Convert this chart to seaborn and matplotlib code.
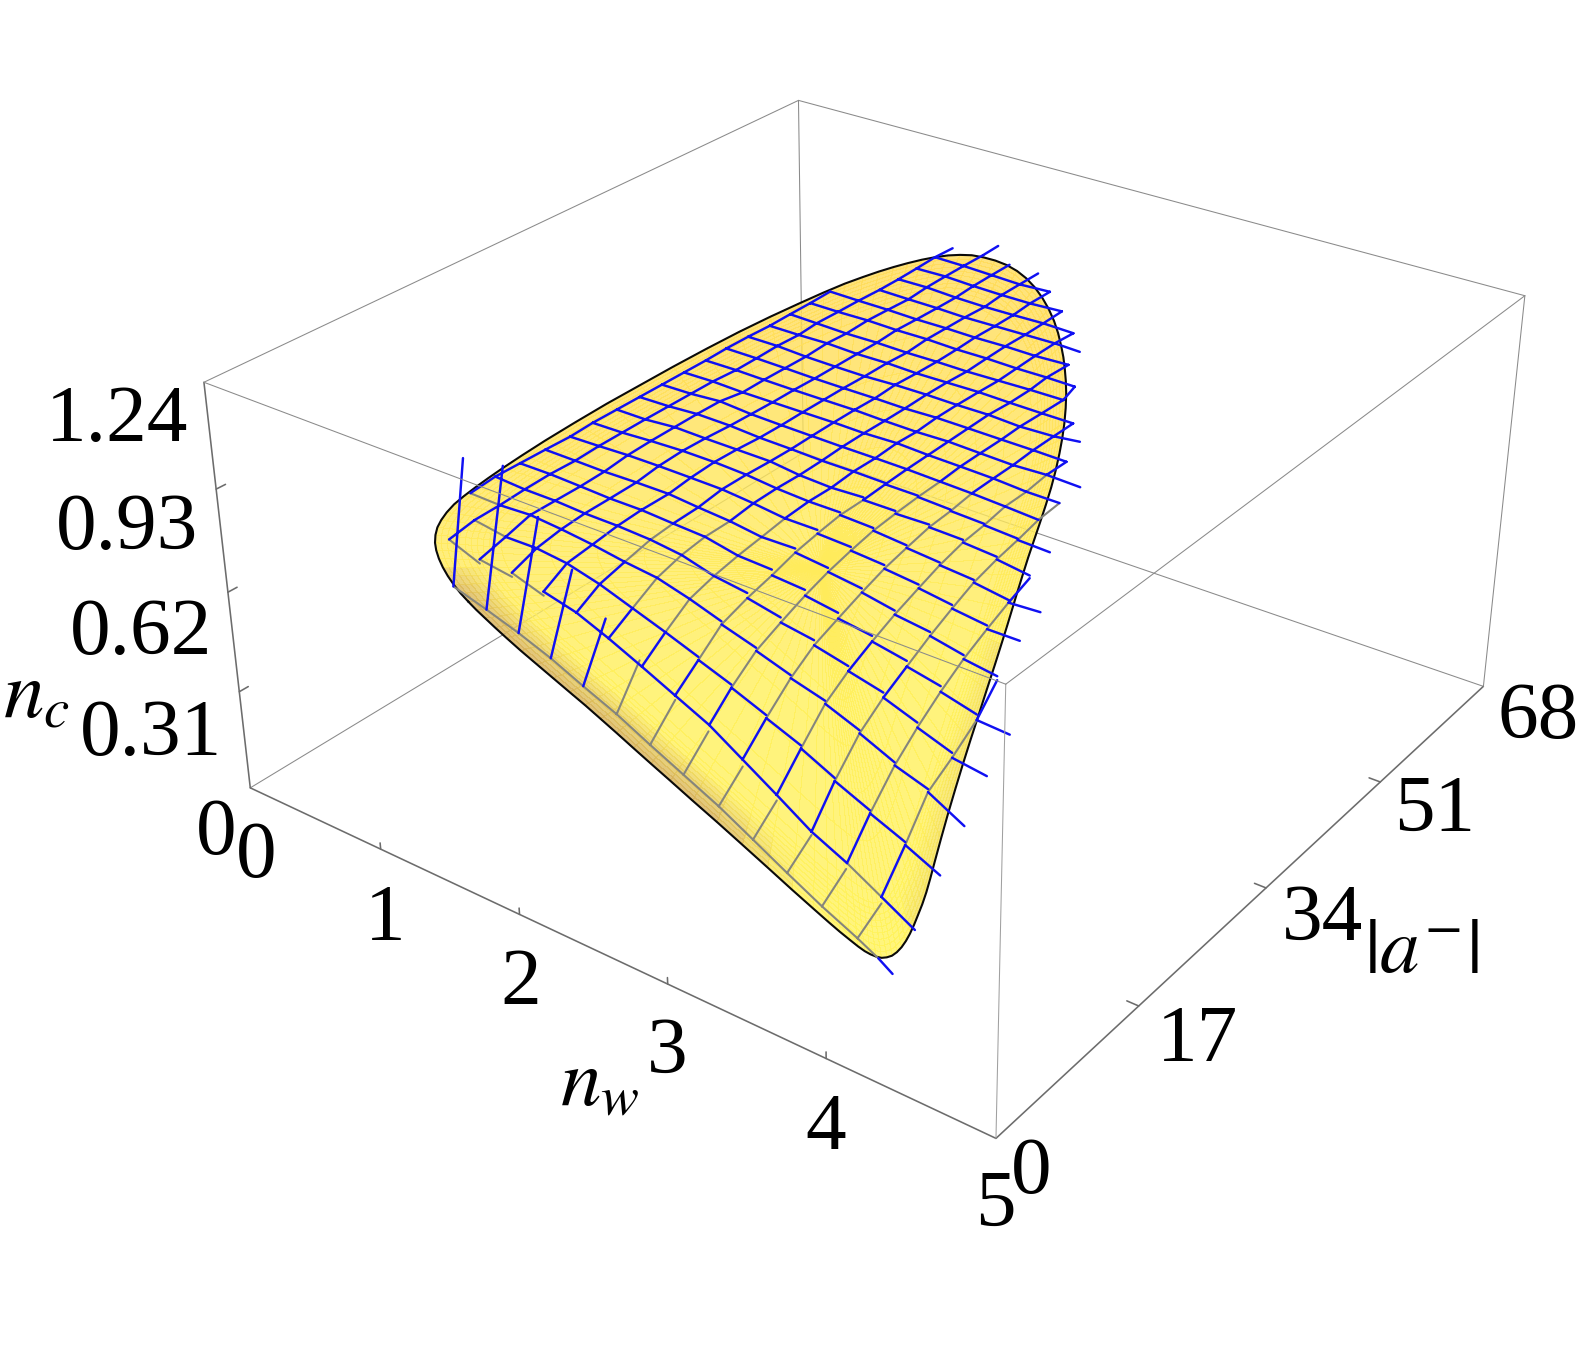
import numpy as np
import matplotlib
matplotlib.use('Agg')
import matplotlib.pyplot as plt
import seaborn as sns
from mpl_toolkits.mplot3d import Axes3D

W, H = 1583, 1350
n = np.nan

# ---------------- axes ranges and tick labels ----------------
nw_range = (0, 5)
a_range = (0, 68)
nc_range = (0, 1.24)
nw_ticks = [0, 1, 2, 3, 4, 5]
a_ticks = [0, 17, 34, 51, 68]
nc_ticks = [0, 0.31, 0.62, 0.93, 1.24]

# ---------------- surface mesh ----------------
mesh_nw = [1.2, 1.37, 1.54, 1.71, 1.88, 2.05, 2.22, 2.39, 2.56, 2.73, 2.9, 3.07, 3.24, 3.41, 3.58, 3.75, 3.92]
mesh_a = [
[n,n,2.1,2.8,3.4,4.0,4.6,5.3,6.0,6.7,7.6,8.4,9.2,10.1,11.1,10.4,8.9],
[n,4.3,4.8,5.5,6.1,6.8,7.4,8.1,8.8,9.6,10.3,11.1,12.0,13.0,13.9,14.7,n],
[n,6.9,7.5,8.1,8.6,9.3,10.0,10.7,11.4,12.1,13.0,13.9,14.7,15.7,16.7,17.7,n],
[9.0,9.5,10.1,10.7,11.3,12.0,12.7,13.4,14.0,14.9,15.8,16.7,17.6,18.6,19.4,20.6,n],
[11.6,12.1,12.7,13.2,14.0,14.8,15.4,16.1,16.9,17.7,18.5,19.4,20.4,21.3,22.3,23.3,n],
[14.2,14.8,15.4,15.9,16.6,17.3,18.0,18.8,19.7,20.5,21.3,22.2,23.2,24.1,25.3,26.1,n],
[16.9,17.5,18.0,18.8,19.6,20.1,20.8,21.5,22.4,23.2,24.1,24.9,26.0,26.9,27.8,n,n],
[19.6,20.1,20.6,21.3,22.1,22.8,23.5,24.2,25.0,25.9,26.8,27.8,28.7,29.8,30.6,n,n],
[22.1,22.7,23.2,24.0,24.8,25.6,26.2,27.0,27.7,28.6,29.5,30.4,31.4,32.5,33.2,n,n],
[24.8,25.3,25.9,26.6,27.4,28.4,28.9,29.7,30.5,31.3,32.3,33.3,34.3,35.2,n,n,n],
[27.4,28.0,28.5,29.5,30.1,30.9,31.6,32.4,33.2,34.1,35.0,36.0,37.0,37.8,n,n,n],
[30.0,30.6,31.2,32.0,32.7,33.4,34.1,35.1,35.9,36.9,37.7,38.7,39.7,n,n,n,n],
[32.6,33.2,33.9,34.6,35.3,36.1,36.8,37.8,38.6,39.5,40.5,41.5,42.5,n,n,n,n],
[35.2,36.0,36.5,37.2,37.9,38.7,39.4,40.3,41.2,42.1,43.1,44.2,45.3,n,n,n,n],
[37.7,38.5,39.1,39.8,40.4,41.3,42.0,42.9,43.8,44.9,45.8,46.9,n,n,n,n,n],
[40.4,41.1,41.7,42.4,43.1,43.9,44.8,45.6,46.5,47.4,48.6,48.7,n,n,n,n,n],
[43.1,43.8,44.4,45.2,46.0,46.7,47.5,48.5,49.4,50.4,51.3,n,n,n,n,n,n],
[45.7,46.1,46.9,47.8,48.6,49.4,50.2,51.2,52.2,53.4,n,n,n,n,n,n,n],
[48.3,48.9,49.7,50.4,51.3,52.1,52.9,53.7,54.5,55.0,n,n,n,n,n,n,n],
[50.9,51.6,52.4,53.1,53.9,54.6,55.5,56.3,57.6,n,n,n,n,n,n,n,n],
[n,54.4,55.2,55.9,56.5,57.4,58.3,59.1,59.2,n,n,n,n,n,n,n,n],
[n,57.0,57.7,58.5,59.3,60.0,60.9,61.8,n,n,n,n,n,n,n,n,n],
[n,59.5,60.3,61.0,61.7,62.4,63.6,n,n,n,n,n,n,n,n,n,n],
[n,62.1,62.9,63.6,64.3,65.3,n,n,n,n,n,n,n,n,n,n,n],
[n,64.6,65.7,66.2,67.0,n,n,n,n,n,n,n,n,n,n,n,n],
[n,n,67.9,n,n,n,n,n,n,n,n,n,n,n,n,n,n],
]
mesh_nc = [
[n,n,.862,.812,.763,.709,.647,.583,.511,.441,.362,.279,.196,.110,.026,.016,.038],
[n,.933,.895,.873,.837,.793,.737,.672,.605,.534,.450,.361,.265,.183,.095,.011,n],
[n,.947,.916,.901,.877,.833,.780,.727,.663,.599,.523,.447,.366,.281,.198,.109,n],
[.965,.949,.938,.914,.887,.853,.823,.778,.722,.658,.591,.529,.455,.371,.307,.203,n],
[.973,.954,.938,.920,.898,.872,.845,.800,.750,.693,.641,.578,.511,.435,.356,.298,n],
[.972,.957,.938,.921,.903,.879,.856,.815,.770,.725,.672,.617,.554,.492,.415,.370,n],
[.971,.955,.941,.923,.903,.882,.857,.826,.793,.750,.702,.651,.597,.541,.491,n,n],
[.969,.959,.950,.933,.912,.893,.867,.838,.807,.769,.728,.681,.633,.581,.550,n,n],
[.973,.960,.953,.937,.917,.893,.869,.844,.819,.785,.746,.707,.666,.615,.595,n,n],
[.973,.961,.954,.935,.915,.890,.867,.843,.820,.793,.763,.728,.688,.644,n,n,n],
[.973,.961,.955,.930,.910,.889,.869,.850,.825,.799,.769,.737,.703,.676,n,n,n],
[.973,.961,.954,.928,.909,.891,.873,.849,.829,.802,.780,.751,.721,n,n,n,n],
[.973,.961,.942,.926,.910,.892,.874,.854,.831,.808,.782,.752,.728,n,n,n,n],
[.973,.956,.943,.926,.910,.892,.873,.851,.833,.809,.783,.762,.733,n,n,n,n],
[.975,.957,.942,.924,.910,.890,.873,.856,.835,.809,.788,.761,n,n,n,n,n],
[.974,.959,.941,.924,.908,.894,.875,.856,.837,.812,.789,.796,n,n,n,n,n],
[.971,.956,.945,.924,.908,.890,.874,.854,.832,.809,.789,n,n,n,n,n,n],
[.972,.961,.941,.923,.904,.888,.870,.851,.832,.807,n,n,n,n,n,n,n],
[.972,.959,.944,.927,.909,.889,.873,.854,.838,.826,n,n,n,n,n,n,n],
[.974,.958,.941,.924,.908,.892,.875,.857,.834,n,n,n,n,n,n,n,n],
[n,.955,.937,.922,.907,.890,.873,.858,.853,n,n,n,n,n,n,n,n],
[n,.955,.942,.921,.903,.890,.874,.853,n,n,n,n,n,n,n,n,n],
[n,.957,.943,.925,.909,.895,.876,n,n,n,n,n,n,n,n,n,n],
[n,.960,.943,.926,.909,.894,n,n,n,n,n,n,n,n,n,n,n],
[n,.957,.942,.926,.909,n,n,n,n,n,n,n,n,n,n,n,n],
[n,n,.944,n,n,n,n,n,n,n,n,n,n,n,n,n,n],
]
foot_a = [n,n,3.9,5.3,6.0,6.6,7.2,7.9,8.8,9.5,10.3,11.1,12.0,12.9,13.9,n,n]
foot_nc = [n,n,1.197,1.180,1.052,.920,.798,.694,.592,.517,.429,.344,.255,.167,.075,n,n]
# last row index of each mesh column, and the row where the column turns from gray to blue
column_top = [19,24,25,24,24,23,22,21,19,18,16,14,12,9,6,0,0]
column_gray_below = [0,0,0,0,0,5,6,7,9,11,11,13,99,8,5,0,0]
# small drop between neighbouring pieces of one constant-|a| line
row_step = [0,-.012,.009,.009,.015,.017,.012,.011,.008,.008,.004]

# ---------------- boundary of the surface ----------------
outline_nw = [1.40,1.44,1.49,1.55,1.61,1.69,1.79,1.88,1.97,2.06,2.15,2.24,2.33,2.43,2.54,2.67,2.81,2.96,3.10,3.24,3.36,3.45,3.51,3.57,3.61,3.65,3.68,3.72,3.75,3.74,3.74,3.72,3.70,3.68,3.65,3.61,
              3.57,3.53,3.49,3.43,3.36,3.28,3.18,3.08,2.98,2.89,2.79,2.69,2.59,2.51,2.44,2.37,2.30,2.24,2.17,2.10,2.03,1.96,1.89,1.82,1.76,1.69,1.64,1.58,1.52,1.47,1.42,1.38,1.33,1.28,1.23,1.18,
              1.15,1.15,1.15,1.15,1.15,1.15,1.15,1.15,1.15,1.15,1.15,1.15,1.15,1.15,1.15,1.15,1.15,1.15,1.15,1.15,1.15,1.15,1.15,1.15,1.15,1.15,1.15,1.15,1.15,1.15,1.15,
              1.37,1.31,1.27,1.24,1.22,1.21,1.21,1.21,1.23,1.25,1.28,1.31,1.35]
outline_a = [5.32,5.51,5.63,5.70,5.92,6.17,6.28,6.55,6.82,7.03,7.22,7.45,7.75,7.99,8.26,8.53,8.82,9.05,9.43,9.71,10.01,10.11,10.35,10.40,10.61,10.65,10.77,10.70,10.78,11.58,12.18,13.13,14.06,14.95,16.00,17.25,
             18.50,19.76,21.02,22.65,24.54,26.85,29.66,32.53,35.45,38.21,41.22,44.35,47.46,49.94,52.12,54.25,56.38,58.36,60.58,62.86,65.16,67.46,69.70,71.81,73.59,75.46,76.79,78.20,79.49,80.42,81.25,81.81,82.45,82.94,83.26,83.37,
             82.89,81.65,80.27,78.76,77.13,75.34,73.50,71.74,69.98,68.22,66.40,64.42,62.39,60.42,58.37,56.17,53.72,50.87,47.66,44.00,40.12,36.14,32.16,28.25,24.49,20.89,17.68,15.17,13.13,11.54,10.23,
             6.04,5.85,5.61,5.43,5.27,5.16,5.06,5.12,5.05,5.10,5.12,5.24,5.31]
outline_nc = [.739,.718,.700,.682,.658,.629,.604,.574,.544,.517,.489,.459,.425,.392,.356,.315,.272,.228,.179,.134,.094,.070,.047,.034,.018,.011,.005,.008,.009,-.009,-.017,-.031,-.040,-.044,-.050,-.057,
              -.060,-.062,-.058,-.060,-.059,-.048,-.043,-.038,-.032,-.021,-.015,-.001,.011,.022,.033,.043,.053,.070,.083,.095,.108,.123,.139,.156,.179,.196,.223,.247,.271,.297,.322,.350,.375,.407,.440,.475,
              .518,.571,.621,.667,.709,.748,.783,.813,.837,.858,.876,.893,.908,.921,.933,.944,.955,.964,.972,.980,.986,.989,.990,.989,.988,.984,.979,.973,.967,.961,.955,
              1.030,1.000,.974,.950,.928,.906,.885,.862,.842,.819,.798,.775,.755]
edge_shade = [1]*16 + [.8,.5,.2] + [0]*15 + [.25]*15 + [0]*63 + [.5,.7,.9,1]

# ---------------- look ----------------
BLUE = '#1010F2'
GRAY = '#85857C'
sns.set_theme(style='white')
plt.rcParams['font.family'] = ['Liberation Serif', 'DejaVu Serif']
plt.rcParams['mathtext.fontset'] = 'stix'
FS = 58.5

# camera calibrated on the eight corners of the box
corners = np.array([[x, y, z] for z in nc_range for x, y in
                    [(nw_range[0], a_range[0]), (nw_range[1], a_range[0]),
                     (nw_range[1], a_range[1]), (nw_range[0], a_range[1])]], float)
corner_px = np.array([[250,787],[996,1138],[1484,686],[803,454],[204,382],[1006,686],[1524,295],[799,100]], float)
A, b = [], []
for (X, Y, Z), (u, v) in zip(corners, corner_px):
    A.append([X, Y, Z, 1, 0, 0, 0, 0, -u*X, -u*Y, -u*Z]); b.append(u)
    A.append([0, 0, 0, 0, X, Y, Z, 1, -v*X, -v*Y, -v*Z]); b.append(v)
P = np.append(np.linalg.lstsq(np.array(A), np.array(b), rcond=None)[0], 1).reshape(3, 4)
cam = np.linalg.svd(P)[2][-1]
M = np.vstack([2/W*P[0]-P[2], -2/H*P[1]+P[2], -0.5*P[2]+1e-3*cam, P[2]])

fig = plt.figure(figsize=(W/100, H/100), dpi=100, facecolor='white')
ax = fig.add_axes([0, 0, 1, 1], projection='3d')
ax.set_proj_type('ortho')
ax.set_axis_off()
ax.computed_zorder = False
ax.get_proj = lambda: M
ax.apply_aspect = lambda position=None: None
ax.patch.set_visible(False)

def seg(p, q, **kw):
    ax.plot([p[0], q[0]], [p[1], q[1]], [p[2], q[2]], solid_capstyle='round', **kw)

x0, x1 = nw_range; y0, y1 = a_range; z0, z1 = nc_range
thick = dict(color='#6c6c6c', lw=1.15)
thin = dict(color='#8a8a8a', lw=0.75)
# box edges behind the surface
seg((x0,y0,z0), (x0,y1,z0), zorder=1, **thin)
seg((x0,y1,z0), (x1,y1,z0), zorder=1, **thin)
seg((x0,y1,z0), (x0,y1,z1), zorder=1, **thin)

# the surface: rings from the centre of the boundary out to the boundary
onw, oa, onc = map(np.array, (outline_nw, outline_a, outline_nc))
shade = np.array(edge_shade, float)
onw_c, oa_c, onc_c, shade_c = [np.r_[v, v[0]] for v in (onw, oa, onc, shade)]
cx, cy, cz = onw.mean(), oa.mean(), onc.mean()
rings = np.r_[np.linspace(0, .84, 8), np.linspace(.87, 1, 10)]
X = np.array([cx + f*(onw_c-cx) for f in rings])
Y = np.array([cy + f*(oa_c-cy) for f in rings])
Z = np.array([cz + f*(onc_c-cz) for f in rings])
w_ = P[2,0]*X + P[2,1]*Y + P[2,2]*Z + P[2,3]
sy = (P[1,0]*X + P[1,1]*Y + P[1,2]*Z + P[1,3]) / w_
pal = np.array(sns.blend_palette(['#FFE27A', '#FFE67A', '#FFEE7C', '#FFF37C', '#FFF37C', '#FFF67C'], 128))
idx = np.clip(((sy-250)/(965-250)*127).astype(int), 0, 127)
rgb = pal[idx]
tan = np.array([218, 186, 122])/255
edge = np.clip((rings-.885)/.115, 0, 1)[:, None]*shade_c[None, :]
rgb = rgb*(1-edge[..., None]) + tan*edge[..., None]
alpha = 0.8
face = np.clip((rgb-(1-alpha))/alpha, 0, 1)
face = np.dstack([face, np.full(face.shape[:2], alpha)])
ax.plot_surface(X, Y, Z, facecolors=face, rstride=1, cstride=1, shade=False,
                antialiased=False, linewidth=0, zorder=2)
ax.plot(onw_c, oa_c, onc_c, color='#0a0a0a', lw=1.5, zorder=3)

# mesh lines
ma, mc = np.array(mesh_a), np.array(mesh_nc)
nr, nc_ = ma.shape
def row_is_gray(r, c):
    return (r == 0 and c < 14) or (r == 1 and (c <= 2 or c == 12)) or (r == 2 and c == 0) or (r == 3 and c == -1)
def col_is_gray(r, j):
    c = j-1
    if r <= 1 or (r, c) in ((4, 10), (4, 11)):
        return False
    if r == 2:
        return c >= 5
    return r < column_gray_below[j]
def step(r, j):
    if r >= len(row_step):
        return 0
    if r == 1:
        return row_step[1] if j <= 3 else 0
    return row_step[r] if j >= 7 else 0
lines = {BLUE: ([], [], []), GRAY: ([], [], [])}
def link(color, p, q):
    xs, ys, zs = lines[color]
    xs += [p[0], q[0], n]; ys += [p[1], q[1], n]; zs += [p[2], q[2], n]
for r in range(24):
    for j in range(nc_-1):
        if np.isfinite(ma[r, j]) and np.isfinite(ma[r, j+1]):
            link(GRAY if row_is_gray(r, j-1) else BLUE,
                 (mesh_nw[j], ma[r, j], mc[r, j]),
                 (mesh_nw[j+1], ma[r, j+1], mc[r, j+1]+step(r, j)))
for j in range(nc_):
    for r in range(1, column_top[j]):
        if np.isfinite(ma[r, j]) and np.isfinite(ma[r+1, j]):
            link(GRAY if col_is_gray(r, j) else BLUE,
                 (mesh_nw[j], ma[r, j], mc[r, j]), (mesh_nw[j], ma[r+1, j], mc[r+1, j]))
    if np.isfinite(foot_a[j]):
        link(BLUE if j <= 6 else GRAY, (mesh_nw[j], ma[0, j], mc[0, j]), (mesh_nw[j], foot_a[j], foot_nc[j]))
ax.plot(*lines[GRAY], color=GRAY, lw=1.5, zorder=4)
ax.plot(*lines[BLUE], color=BLUE, lw=1.75, zorder=5)

# box edges in front
seg((x0,y0,z0), (x1,y0,z0), zorder=6, **thick)
seg((x1,y0,z0), (x1,y1,z0), zorder=6, **thick)
seg((x0,y0,z0), (x0,y0,z1), zorder=6, **thick)
seg((x1,y0,z0), (x1,y0,z1), zorder=6, color='#a0a0a0', lw=0.75)
seg((x1,y1,z0), (x1,y1,z1), zorder=6, **thin)
seg((x0,y0,z1), (x1,y0,z1), zorder=6, **thin)
seg((x1,y0,z1), (x1,y1,z1), zorder=6, **thin)
seg((x1,y1,z1), (x0,y1,z1), zorder=6, **thin)
seg((x0,y1,z1), (x0,y0,z1), zorder=6, **thin)
# ticks
for t in nw_ticks[1:-1]:
    seg((t, y0, z0), (t, y0, z0+0.02), zorder=6, **thick)
for t in a_ticks[1:-1]:
    seg((x1, t, z0), (x1-0.07, t, z0), zorder=6, **thick)
for t in nc_ticks[1:-1]:
    seg((x0, y0, t), (x0, y0+0.9, t), zorder=6, **thick)

ax.viewLim.intervalx = (-1, 1)
ax.viewLim.intervaly = (-1, 1)

def label(cx_, base_y, s, size=FS, **kw):
    fig.text(cx_/W, 1-base_y/H, s, fontsize=size, color='black', ha=kw.pop('ha', 'center'), va='baseline', **kw)
nc_pos = [(216, 854), (151, 755), (141, 654), (127, 549), (117, 441)]
for t, (xp, yp) in zip(nc_ticks, nc_pos):
    label(xp, yp, f'{t:g}')
nw_pos = [(256, 877), (385, 940), (521, 1004), (667, 1073), (826, 1149), (995, 1226)]
for t, (xp, yp) in zip(nw_ticks, nw_pos):
    label(xp, yp, f'{t:g}')
a_pos = [(1031, 1193), (1198, 1061), (1322, 940), (1435, 831), (1538, 738)]
for t, (xp, yp) in zip(a_ticks, a_pos):
    label(xp, yp, f'{t:g}')
label(3, 718, r'$n_c$', ha='left')
label(560, 1105, r'$n_w$', ha='left')
label(1364, 972, r'$|a^{-}|$', size=57, ha='left')

fig.savefig('out.png', dpi=100, facecolor='white')
